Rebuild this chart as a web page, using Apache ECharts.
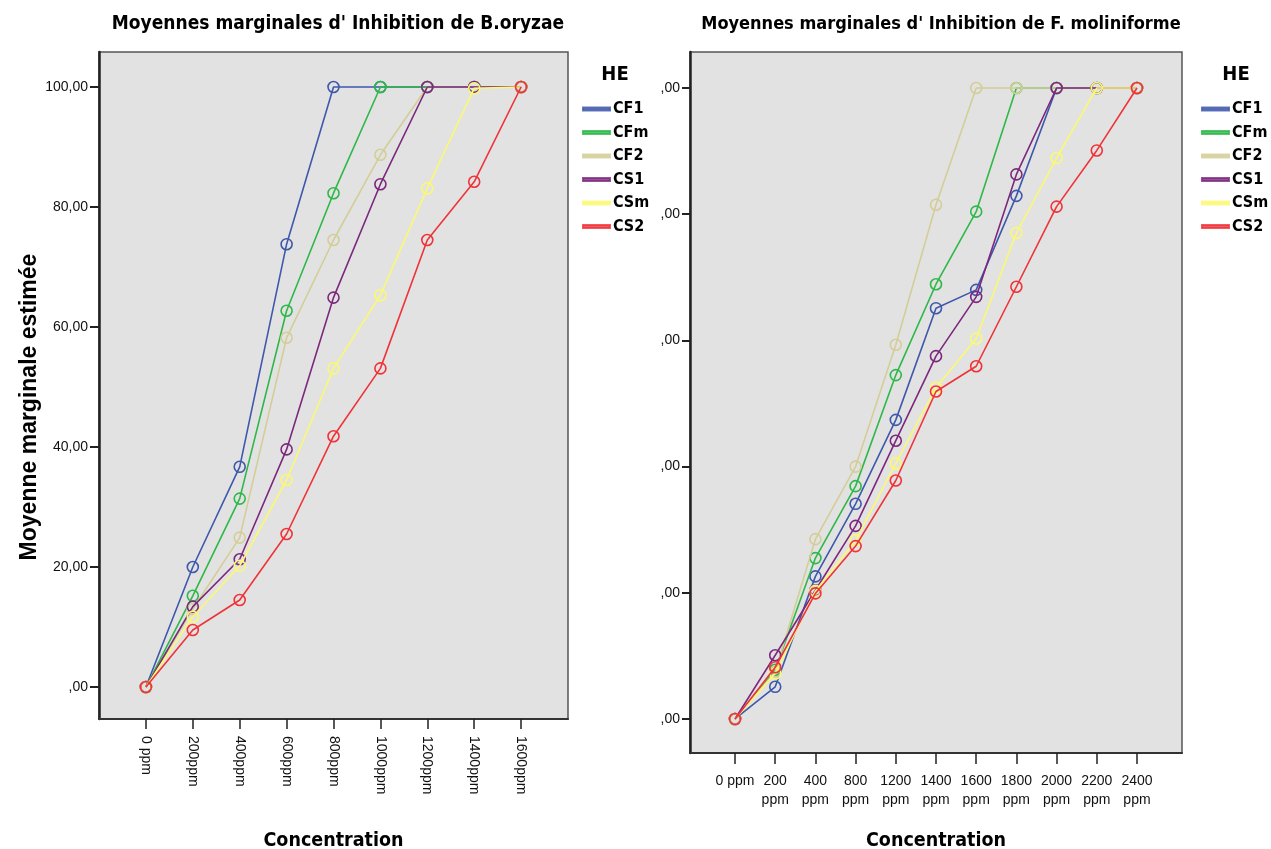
<!DOCTYPE html>
<html><head><meta charset="utf-8">
<script src="https://cdn.jsdelivr.net/npm/echarts@6/dist/echarts.min.js"></script>
<style>html,body{margin:0;padding:0;background:#fff}#c{width:1271px;height:849px}</style>
</head><body><div id="c"></div>
<script>
// ---- data ----
const seriesNames = ['CF1','CFm','CF2','CS1','CSm','CS2'];
const seriesColors = ['#3E58AC','#2EB848','#D3CE97','#7C287D','#FBF873','#EF3338'];

// Left chart: B.oryzae
const leftCats = ['0 ppm','200ppm','400ppm','600ppm','800ppm','1000ppm','1200ppm','1400ppm','1600ppm'];
const leftCF1 = [0, 20.0, 36.7, 73.8, 100, 100, 100, 100, 100];
const leftCFm = [0, 15.2, 31.4, 62.7, 82.3, 100, 100, 100, 100];
const leftCF2 = [0, 13.0, 24.9, 58.2, 74.5, 88.7, 100, 100, 100];
const leftCS1 = [0, 13.4, 21.3, 39.6, 64.9, 83.8, 100, 100, 100];
const leftCSm = [0, 11.7, 20.2, 34.5, 53.1, 65.3, 83.1, 99.8, 100];
const leftCS2 = [0, 9.5, 14.5, 25.5, 41.8, 53.1, 74.5, 84.2, 100];

// Right chart: F. moliniforme
const rightCats = ['0 ppm','200\nppm','400\nppm','800\nppm','1200\nppm','1400\nppm','1600\nppm','1800\nppm','2000\nppm','2200\nppm','2400\nppm'];
const rightCF1 = [0, 5.1, 22.6, 34.1, 47.4, 65.1, 68.0, 82.9, 100, 100, 100];
const rightCFm = [0, 7.8, 25.5, 36.9, 54.5, 68.9, 80.4, 100, 100, 100, 100];
const rightCF2 = [0, 7.5, 28.5, 40.0, 59.3, 81.5, 100, 100, 100, 100, 100];
const rightCS1 = [0, 10.1, 20.4, 30.6, 44.1, 57.5, 66.9, 86.3, 100, 100, 100];
const rightCSm = [0, 7.2, 20.3, 28.3, 40.5, 52.5, 60.3, 77.0, 88.9, 100, 100];
const rightCS2 = [0, 8.2, 19.9, 27.4, 37.8, 51.9, 55.9, 68.5, 81.2, 90.1, 100];

const yTickValues = [0, 20, 40, 60, 80, 100];
const leftYTickLabels = [',00', '20,00', '40,00', '60,00', '80,00', '100,00'];
const rightYTickLabels = [',00', ',00', ',00', ',00', ',00', ',00'];

const leftData = [leftCF1, leftCFm, leftCF2, leftCS1, leftCSm, leftCS2];
const rightData = [rightCF1, rightCFm, rightCF2, rightCS1, rightCSm, rightCS2];

// ---- chart ----
const NARROW = "'Liberation Sans Narrow','Arial Narrow','DejaVu Sans Condensed',sans-serif";
const SANS = "'Liberation Sans',Arial,sans-serif";

function mkSeries(dataSets, cats, gi) {
  return dataSets.map((vals, k) => ({
    name: seriesNames[k], type: 'line', xAxisIndex: gi, yAxisIndex: gi,
    data: cats.map((c, i) => [i, vals[i]]),
    symbol: 'circle', symbolSize: 11,
    lineStyle: { color: seriesColors[k], width: 1.6 },
    itemStyle: { color: 'rgba(0,0,0,0)', borderColor: seriesColors[k], borderWidth: 1.6 },
    emphasis: { disabled: true }, animation: false, z: 2 + k
  }));
}

function mkLegend(left) {
  return { data: seriesNames.map((n, k) => ({ name: n, itemStyle: { color: seriesColors[k], opacity: 0.8 } })),
    orient: 'vertical', left: left, top: 101, padding: 0, icon: 'rect', itemWidth: 27, itemHeight: 3,
    itemGap: 7.5, selectedMode: false,
    textStyle: { fontFamily: NARROW, fontWeight: 'bold', fontSize: 16, color: '#000', lineHeight: 16, padding: [0,0,0,-2] } };
}

const chart = echarts.init(document.getElementById('c'), null, { renderer: 'canvas' });
const axisLabelStyle = { color: '#111', fontFamily: SANS, fontSize: 14 };
chart.setOption({
  backgroundColor: '#fff',
  animation: false,
  title: [
    { text: "Moyennes marginales d' Inhibition de B.oryzae", left: 338, top: 15, padding: 0, textAlign: 'center',
      textStyle: { fontFamily: NARROW, fontWeight: 'bold', fontSize: 19, color: '#000' } },
    { text: "Moyennes marginales d' Inhibition de F. moliniforme", left: 941, top: 15, padding: 0, textAlign: 'center',
      textStyle: { fontFamily: NARROW, fontWeight: 'bold', fontSize: 18, color: '#000' } },
    { text: 'HE', left: 615, top: 65, padding: 0, textAlign: 'center',
      textStyle: { fontFamily: NARROW, fontWeight: 'bold', fontSize: 20, color: '#000' } },
    { text: 'HE', left: 1236, top: 65, padding: 0, textAlign: 'center',
      textStyle: { fontFamily: NARROW, fontWeight: 'bold', fontSize: 20, color: '#000' } }
  ],
  legend: [mkLegend(582), mkLegend(1201)],
  graphic: [
    { type: 'text', x: 30, y: 407, rotation: Math.PI / 2, silent: true,
      style: { text: 'Moyenne marginale estimée', fill: '#000', font: "bold 23px 'Liberation Sans', Arial, sans-serif",
        textAlign: 'center', textVerticalAlign: 'middle', align: 'center', verticalAlign: 'middle' } }
  ],
  grid: [
    { left: 99, right: 1271 - 568, top: 52, height: 667, outerBoundsMode: 'none', containLabel: false,
      show: true, backgroundColor: '#E2E2E2', borderColor: '#555', borderWidth: 1.5 },
    { left: 690, right: 1271 - 1182, top: 52, height: 701, outerBoundsMode: 'none', containLabel: false,
      show: true, backgroundColor: '#E2E2E2', borderColor: '#555', borderWidth: 1.5 }
  ],
  xAxis: [
    { gridIndex: 0, type: 'value', min: -1, max: 9,
      name: 'Concentration', nameLocation: 'middle', nameGap: 112,
      nameTextStyle: { fontFamily: NARROW, fontWeight: 'bold', fontSize: 19.5, color: '#000' },
      axisLine: { show: true, onZero: false, lineStyle: { color: '#333', width: 2 } },
      axisTick: { show: true, customValues: leftCats.map((c, i) => i), length: 10, lineStyle: { color: '#222', width: 1.5 } },
      axisLabel: { customValues: leftCats.map((c, i) => i), formatter: v => leftCats[Math.round(v)] || '', rotate: -90, margin: 17, ...axisLabelStyle },
      splitLine: { show: false } },
    { gridIndex: 1, type: 'value', min: -1.12, max: 11.12,
      name: 'Concentration', nameLocation: 'middle', nameGap: 78,
      nameTextStyle: { fontFamily: NARROW, fontWeight: 'bold', fontSize: 19.5, color: '#000' },
      axisLine: { show: true, onZero: false, lineStyle: { color: '#333', width: 2 } },
      axisTick: { show: true, customValues: rightCats.map((c, i) => i), length: 11, lineStyle: { color: '#222', width: 1.5 } },
      axisLabel: { customValues: rightCats.map((c, i) => i), formatter: v => rightCats[Math.round(v)] || '', margin: 19, lineHeight: 19, ...axisLabelStyle },
      splitLine: { show: false } }
  ],
  yAxis: [
    { gridIndex: 0, type: 'value', min: -5.33, max: 105.83,
      axisLine: { show: true, onZero: false, lineStyle: { color: '#222', width: 2.5 } },
      axisTick: { show: true, customValues: yTickValues, length: 9, lineStyle: { color: '#222', width: 2 } },
      axisLabel: { customValues: yTickValues, formatter: v => leftYTickLabels[yTickValues.indexOf(Math.round(v))] || '', margin: 11, ...axisLabelStyle },
      splitLine: { show: false } },
    { gridIndex: 1, type: 'value', min: -5.39, max: 105.7,
      axisLine: { show: true, onZero: false, lineStyle: { color: '#222', width: 2.5 } },
      axisTick: { show: true, customValues: yTickValues, length: 8, lineStyle: { color: '#222', width: 2 } },
      axisLabel: { customValues: yTickValues, formatter: v => rightYTickLabels[yTickValues.indexOf(Math.round(v))] || '', margin: 10, ...axisLabelStyle },
      splitLine: { show: false } }
  ],
  series: [...mkSeries(leftData, leftCats, 0), ...mkSeries(rightData, rightCats, 1)]
});
</script></body></html>
